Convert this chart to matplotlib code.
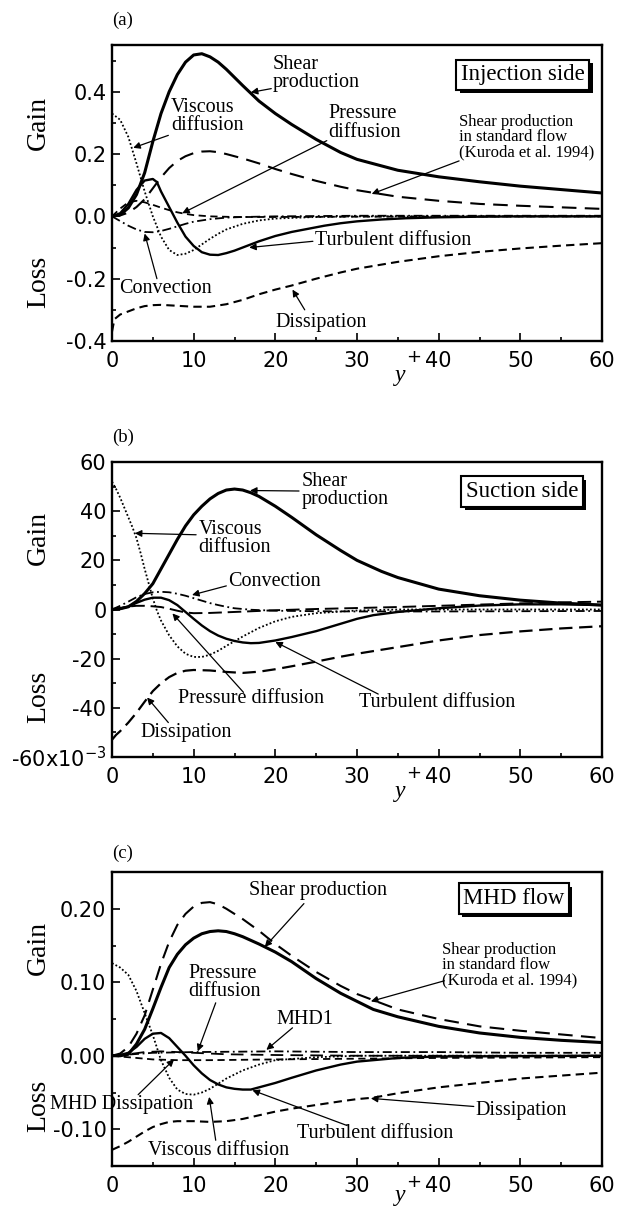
import matplotlib

matplotlib.use("Agg")
import matplotlib.pyplot as plt  # noqa: E402
from matplotlib import patheffects, transforms  # noqa: E402
from matplotlib.ticker import FixedLocator, MultipleLocator, FuncFormatter  # noqa: E402

SERIF = "Liberation Serif"

# ---- (a) injection side -------------------------------------------------
a_shear_x = [0, 1, 2, 3, 4, 5, 6, 7, 8, 9, 10, 11, 12, 13, 14, 16, 18, 20, 22, 25, 28, 30, 35, 40, 45, 50, 55, 60]
a_shear_y = [0, 0.005, 0.027, 0.07, 0.14, 0.24, 0.33, 0.40, 0.455, 0.495, 0.518, 0.522, 0.512, 0.495, 0.472,
             0.42, 0.37, 0.33, 0.295, 0.247, 0.205, 0.183, 0.148, 0.127, 0.111, 0.097, 0.086, 0.075]
a_visc_x = [0, 1, 2, 3, 4, 5, 6, 7, 8, 9, 10, 11, 12, 13, 14, 16, 18, 20, 25, 30, 60]
a_visc_y = [0.33, 0.31, 0.255, 0.17, 0.08, 0.0, -0.065, -0.108, -0.124, -0.12, -0.108, -0.09, -0.072, -0.056,
            -0.042, -0.024, -0.013, -0.007, -0.002, 0, 0]
a_turb_x = [0, 1, 2, 3, 4, 5, 5.5, 6, 7, 8, 9, 10, 11, 12, 13, 14, 15, 16, 17, 18, 20, 22, 24, 26, 28, 30, 33,
            36, 40, 45, 50, 60]
a_turb_y = [0, 0.01, 0.04, 0.085, 0.115, 0.12, 0.11, 0.08, 0.03, -0.02, -0.065, -0.095, -0.115, -0.123, -0.124,
            -0.118, -0.11, -0.1, -0.09, -0.08, -0.063, -0.05, -0.04, -0.03, -0.022, -0.016, -0.01, -0.006,
            -0.003, -0.001, 0, 0]
a_pres_x = [0, 1, 2, 3, 4, 5, 6, 7, 8, 9, 10, 12, 15, 20, 30, 60]
a_pres_y = [0, 0.025, 0.045, 0.05, 0.045, 0.037, 0.028, 0.02, 0.013, 0.008, 0.004, 0.0, -0.002, -0.002, -0.001, 0]
a_conv_x = [0, 1, 2, 3, 4, 5, 6, 7, 8, 9, 10, 12, 14, 16, 20, 30, 60]
a_conv_y = [0, -0.015, -0.03, -0.042, -0.05, -0.051, -0.047, -0.04, -0.032, -0.024, -0.017, -0.009, -0.004,
            -0.002, 0.0, 0.002, 0.002]
a_diss_x = [0, 0.3, 1, 2, 3, 4, 5, 6, 8, 10, 12, 14, 16, 18, 20, 22, 25, 28, 30, 35, 40, 45, 50, 55, 60]
a_diss_y = [-0.37, -0.33, -0.315, -0.305, -0.295, -0.288, -0.285, -0.284, -0.287, -0.29, -0.29, -0.282, -0.268,
            -0.25, -0.235, -0.222, -0.2, -0.18, -0.168, -0.146, -0.128, -0.114, -0.103, -0.094, -0.086]

# shear production of the standard (non-MHD) channel, Kuroda et al. 1994
std_x = [0, 1, 2, 3, 4, 5, 6, 7, 8, 9, 10, 11, 12, 13, 14, 16, 18, 20, 22, 25, 28, 30, 35, 40, 45, 50, 55, 60]
std_y = [0, 0.003, 0.012, 0.03, 0.055, 0.09, 0.125, 0.155, 0.178, 0.193, 0.203, 0.208, 0.209, 0.206, 0.2,
         0.186, 0.17, 0.152, 0.136, 0.114, 0.095, 0.084, 0.063, 0.05, 0.04, 0.034, 0.029, 0.024]

# ---- (b) suction side (x1e-3) --------------------------------------------
b_shear_x = [0, 1, 2, 3, 4, 5, 6, 7, 8, 9, 10, 11, 12, 13, 14, 15, 16, 17, 18, 20, 22, 25, 28, 30, 33, 35, 40,
             45, 50, 55, 60]
b_shear_y = [0, 0.3, 1.1, 3.3, 6.5, 10.5, 16.5, 22.5, 28.5, 34, 38.5, 42, 45, 47.2, 48.6, 49, 48.6, 47.5, 46,
             42, 37.5, 30.4, 24, 20, 15.5, 13, 8.3, 5.6, 3.8, 2.6, 1.8]
b_visc_x = [0, 0.5, 1, 1.5, 2, 2.5, 3, 3.5, 4, 4.5, 5, 5.5, 6, 7, 8, 9, 10, 11, 12, 13, 14, 15, 16, 18, 20, 22,
            25, 30, 35, 60]
b_visc_y = [52, 49, 45.5, 41.5, 37.5, 33.5, 29, 23, 16.5, 10.5, 4.5, -0.5, -4.5, -10.5, -15, -18, -19.3, -19.3,
            -18.4, -16.8, -14.8, -12.9, -11, -7.5, -4.8, -3, -1.5, -0.4, 0, 0]
b_turb_x = [0, 1, 2, 3, 4, 5, 6, 7, 8, 9, 10, 11, 12, 13, 14, 15, 16, 17, 18, 20, 22, 25, 28, 30, 32, 35, 38,
            40, 45, 50, 55, 60]
b_turb_y = [0, 0.3, 1.2, 2.7, 4, 4.8, 4.8, 3.8, 1.8, -1, -3.8, -6.5, -8.8, -10.6, -11.9, -12.8, -13.4, -13.7,
            -13.6, -12.6, -11.2, -8.8, -5.8, -3.8, -2.3, -1, -0.1, 0.5, 1.6, 2.1, 2.1, 1.8]
b_pres_x = [0, 1, 2, 3, 4, 5, 6, 7, 8, 9, 10, 12, 15, 20, 25, 30, 35, 40, 45, 50, 55, 60]
b_pres_y = [0, 0.6, 1.2, 1.5, 1.5, 1.3, 1, 0.3, -0.5, -1.2, -1.5, -1.4, -1, -0.3, 0.2, 0.6, 1, 1.5, 2, 2.5,
            2.9, 3.2]
b_conv_x = [0, 1, 2, 3, 4, 5, 6, 7, 8, 9, 10, 11, 12, 13, 14, 15, 17, 20, 25, 30, 40, 50, 60]
b_conv_y = [0, 1.5, 3.2, 5, 6.3, 7, 7.2, 7, 6.4, 5.6, 4.6, 3.6, 2.6, 1.8, 1.1, 0.5, -0.1, -0.5, -0.7, -0.8,
            -0.8, -0.7, -0.6]
b_diss_x = [0, 0.5, 1, 2, 3, 4, 5, 6, 7, 8, 9, 10, 12, 14, 16, 18, 20, 22, 25, 28, 30, 35, 40, 45, 50, 55, 60]
b_diss_y = [-53, -51, -49.5, -46, -42, -37.5, -33.2, -30, -27.5, -25.8, -24.9, -24.6, -24.8, -25.4, -25.8,
            -25.3, -24.3, -23.1, -21.2, -19.2, -18, -15.3, -12.6, -10.4, -8.9, -7.7, -6.8]

# ---- (c) MHD flow ---------------------------------------------------------
c_shear_x = [0, 1, 2, 3, 4, 5, 6, 7, 8, 9, 10, 11, 12, 13, 14, 15, 16, 18, 20, 22, 25, 28, 30, 32, 35, 40, 45,
             50, 55, 60]
c_shear_y = [0, 0, 0.002, 0.016, 0.036, 0.064, 0.093, 0.12, 0.138, 0.151, 0.16, 0.166, 0.169, 0.17, 0.169,
             0.166, 0.162, 0.152, 0.141, 0.128, 0.105, 0.085, 0.074, 0.063, 0.053, 0.04, 0.031, 0.025, 0.021,
             0.018]
c_visc_x = [0, 1, 2, 3, 4, 5, 6, 7, 8, 9, 10, 11, 12, 13, 14, 16, 18, 20, 25, 30, 60]
c_visc_y = [0.126, 0.12, 0.11, 0.088, 0.058, 0.028, -0.006, -0.03, -0.046, -0.052, -0.053, -0.05, -0.045,
            -0.038, -0.031, -0.02, -0.012, -0.006, -0.002, 0, 0]
c_turb_x = [0, 1, 2, 3, 4, 5, 6, 7, 8, 9, 10, 11, 12, 13, 14, 15, 16, 17, 18, 20, 22, 25, 28, 30, 35, 40, 60]
c_turb_y = [0, 0.001, 0.004, 0.012, 0.023, 0.03, 0.031, 0.024, 0.012, 0.0, -0.013, -0.024, -0.033, -0.039,
            -0.043, -0.045, -0.046, -0.046, -0.043, -0.037, -0.03, -0.02, -0.012, -0.008, -0.003, -0.001, 0]
c_pres_x = [0, 2, 4, 6, 8, 10, 14, 20, 30, 60]
c_pres_y = [0, 0.002, 0.005, 0.006, 0.005, 0.004, 0.002, 0.001, 0, 0]
c_mhd1_x = [0, 5, 10, 20, 30, 40, 50, 60]
c_mhd1_y = [0, 0.004, 0.005, 0.006, 0.005, 0.005, 0.004, 0.004]
c_mhdd_x = [0, 2, 5, 8, 12, 20, 30, 40, 60]
c_mhdd_y = [0, -0.002, -0.005, -0.006, -0.006, -0.005, -0.004, -0.003, -0.002]
c_diss_x = [0, 1, 2, 3, 4, 5, 6, 7, 8, 10, 12, 14, 16, 18, 20, 22, 25, 28, 30, 32, 35, 40, 45, 50, 55, 60]
c_diss_y = [-0.128, -0.123, -0.117, -0.11, -0.103, -0.097, -0.093, -0.09, -0.089, -0.089, -0.09, -0.089,
            -0.086, -0.081, -0.076, -0.072, -0.067, -0.062, -0.059, -0.057, -0.051, -0.043, -0.037, -0.031,
            -0.027, -0.023]

x_ticks = [0, 10, 20, 30, 40, 50, 60]
a_yticks = [-0.4, -0.2, 0.0, 0.2, 0.4]
b_yticks = [-60, -40, -20, 0, 20, 40, 60]
c_yticks = [-0.10, 0.00, 0.10, 0.20]

SOLID = "-"
DOT = (0, (1, 1.2))
DASH = (0, (4, 2.5))
LONGDASH = (0, (7, 4))
DASHDOT = (0, (5, 2, 1, 2))

fig = plt.figure(figsize=(6.2, 12.08), dpi=100)
W, H = 620.0, 1208.0


def make_axes(top, bottom):
    return fig.add_axes([112 / W, 1 - bottom / H, 490 / W, (bottom - top) / H])


def style(ax, ylim, yticks, yminor, fmt, ydrop=29):
    ax.set_xlim(0, 60)
    ax.set_ylim(*ylim)
    ax.xaxis.set_major_locator(FixedLocator(x_ticks))
    ax.xaxis.set_minor_locator(MultipleLocator(5))
    ax.yaxis.set_major_locator(FixedLocator(yticks))
    ax.yaxis.set_minor_locator(MultipleLocator(yminor))
    ax.yaxis.set_major_formatter(FuncFormatter(fmt))
    ax.tick_params(which="both", direction="in", top=False, right=False, width=1.2)
    ax.tick_params(which="major", length=6)
    ax.tick_params(which="minor", length=3)
    ax.tick_params(axis="x", pad=7, labelsize=15)
    ax.tick_params(axis="y", pad=4, labelsize=15)
    for s in ax.spines.values():
        s.set_linewidth(1.7)
    # y+ label: the "+" sits next to the "40" tick label, the y just below
    ax.annotate("+", xy=(36.9, 0), xycoords=("data", "axes fraction"), xytext=(0, -5),
                textcoords="offset points", ha="center", va="top", fontsize=13)
    ax.annotate("y", xy=(35.3, 0), xycoords=("data", "axes fraction"), xytext=(0, -ydrop),
                textcoords="offset points", ha="center", va="baseline", fontsize=17,
                family=SERIF, style="italic")


def side_labels(ax, gain_y, loss_y):
    tr = transforms.blended_transform_factory(ax.transAxes, ax.transData)
    for txt, yy in (("Gain", gain_y), ("Loss", loss_y)):
        ax.text(-0.15, yy, txt, transform=tr, rotation=90, ha="center", va="center",
                fontsize=20, family=SERIF)


def label(ax, text, xy, size=14.5, ha="left"):
    ax.text(xy[0], xy[1], text, ha=ha, va="center", fontsize=size, family=SERIF,
            linespacing=0.95, clip_on=False)


def arrow(ax, tail, tip):
    ax.annotate("", xy=tip, xytext=tail,
                arrowprops=dict(arrowstyle="-|>", lw=0.9, color="black", mutation_scale=10,
                                shrinkA=0, shrinkB=0))


def boxed(ax, text, xy):
    t = ax.text(xy[0], xy[1], text, ha="center", va="center", fontsize=16.5, family=SERIF,
                bbox=dict(boxstyle="square,pad=0.2", fc="white", ec="black", lw=1.5))
    t.get_bbox_patch().set_path_effects(
        [patheffects.SimplePatchShadow(offset=(2.5, -2.5), shadow_rgbFace="black", alpha=1.0),
         patheffects.Normal()])


def plain(v, pos):
    return f"{v:.1f}"


def two(v, pos):
    return f"{v:.2f}"


def milli(v, pos):
    if v == -60:
        return r"-60x10$^{-3}$"
    return f"{v:.0f}"


for txt, y in (("(a)", 20), ("(b)", 437), ("(c)", 853)):
    fig.text(123 / W, 1 - y / H, txt, ha="center", va="center", fontsize=13.5, family=SERIF)

# ---------------- panel (a) ----------------
ax = make_axes(45, 341)
ax.plot(a_diss_x, a_diss_y, ls=DASH, color="black", lw=1.5)
ax.plot(std_x, std_y, ls=LONGDASH, color="black", lw=1.5)
ax.plot(a_conv_x, a_conv_y, ls=DASHDOT, color="black", lw=1.3)
ax.plot(a_pres_x, a_pres_y, ls=DASH, color="black", lw=1.3)
ax.plot(a_visc_x, a_visc_y, ls=DOT, color="black", lw=1.3)
ax.plot(a_turb_x, a_turb_y, ls=SOLID, color="black", lw=1.7)
ax.plot(a_shear_x, a_shear_y, ls=SOLID, color="black", lw=2.2)
style(ax, (-0.4, 0.55), a_yticks, 0.1, plain)
side_labels(ax, 0.30, -0.21)
label(ax, "Shear\nproduction", (19.7, 0.458))
arrow(ax, (19.5, 0.41), (17.0, 0.398))
label(ax, "Viscous\ndiffusion", (7.2, 0.32))
arrow(ax, (6.9, 0.26), (2.6, 0.22))
label(ax, "Pressure\ndiffusion", (26.5, 0.30))
arrow(ax, (26.3, 0.243), (8.6, 0.01))
label(ax, "Shear production\nin standard flow\n(Kuroda et al. 1994)", (42.5, 0.255), size=12)
arrow(ax, (42.5, 0.178), (31.8, 0.072))
label(ax, "Turbulent diffusion", (24.8, -0.076))
arrow(ax, (24.6, -0.08), (16.8, -0.1))
label(ax, "Convection", (0.9, -0.232))
arrow(ax, (5.5, -0.2), (4.0, -0.055))
label(ax, "Dissipation", (20, -0.34))
arrow(ax, (23.6, -0.3), (22.1, -0.235))
boxed(ax, "Injection side", (50.3, 0.455))

# ---------------- panel (b) ----------------
ax = make_axes(462, 757)
ax.plot(b_diss_x, b_diss_y, ls=(0, (6, 3)), color="black", lw=1.6)
ax.plot(b_pres_x, b_pres_y, ls=(0, (7, 3)), color="black", lw=1.4)
ax.plot(b_conv_x, b_conv_y, ls=DASHDOT, color="black", lw=1.3)
ax.plot(b_visc_x, b_visc_y, ls=DOT, color="black", lw=1.3)
ax.plot(b_turb_x, b_turb_y, ls=SOLID, color="black", lw=1.7)
ax.plot(b_shear_x, b_shear_y, ls=SOLID, color="black", lw=2.2)
style(ax, (-60, 60), b_yticks, 10, milli)
side_labels(ax, 29, -35.6)
label(ax, "Shear\nproduction", (23.2, 48.5))
arrow(ax, (22.9, 48.2), (16.9, 48.4))
label(ax, "Viscous\ndiffusion", (10.6, 29))
arrow(ax, (10.3, 30.4), (2.8, 31))
label(ax, "Convection", (14.2, 11.3))
arrow(ax, (14.0, 9.6), (9.8, 5.9))
label(ax, "Pressure diffusion", (8.1, -36.4))
arrow(ax, (16.1, -33.7), (7.4, -1.6))
label(ax, "Turbulent diffusion", (30.2, -37.8))
arrow(ax, (32.6, -34.4), (20, -13.2))
label(ax, "Dissipation", (3.5, -50))
arrow(ax, (6.9, -46), (4.3, -35.8))
boxed(ax, "Suction side", (50.2, 48))

# ---------------- panel (c) ----------------
ax = make_axes(872, 1166)
ax.plot(c_diss_x, c_diss_y, ls=DASH, color="black", lw=1.5)
ax.plot(std_x, std_y, ls=LONGDASH, color="black", lw=1.5)
ax.plot(c_mhdd_x, c_mhdd_y, ls=DASH, color="black", lw=1.3)
ax.plot(c_mhd1_x, c_mhd1_y, ls=DASHDOT, color="black", lw=1.3)
ax.plot(c_pres_x, c_pres_y, ls=LONGDASH, color="black", lw=1.3)
ax.plot(c_visc_x, c_visc_y, ls=DOT, color="black", lw=1.3)
ax.plot(c_turb_x, c_turb_y, ls=SOLID, color="black", lw=1.7)
ax.plot(c_shear_x, c_shear_y, ls=SOLID, color="black", lw=2.2)
style(ax, (-0.15, 0.25), c_yticks, 0.05, two, ydrop=25)
side_labels(ax, 0.147, -0.068)
label(ax, "Shear production", (25.2, 0.225), ha="center")
arrow(ax, (23.5, 0.207), (18.7, 0.148))
label(ax, "Shear production\nin standard flow\n(Kuroda et al. 1994)", (40.4, 0.123), size=12)
arrow(ax, (40.7, 0.102), (31.7, 0.074))
label(ax, "Pressure\ndiffusion", (9.3, 0.10))
arrow(ax, (12.7, 0.072), (10.5, 0.006))
label(ax, "MHD1", (20.1, 0.049))
arrow(ax, (22.1, 0.038), (18.9, 0.008))
label(ax, "MHD Dissipation", (-7.6, -0.067))
arrow(ax, (3.2, -0.053), (7.6, -0.005))
label(ax, "Viscous diffusion", (4.4, -0.129))
arrow(ax, (12.7, -0.115), (11.9, -0.056))
label(ax, "Turbulent diffusion", (22.6, -0.106))
arrow(ax, (28.8, -0.095), (17.2, -0.047))
label(ax, "Dissipation", (44.5, -0.074))
arrow(ax, (44.3, -0.069), (31.7, -0.058))
boxed(ax, "MHD flow", (49.2, 0.214))

fig.savefig("out.png", dpi=100)
